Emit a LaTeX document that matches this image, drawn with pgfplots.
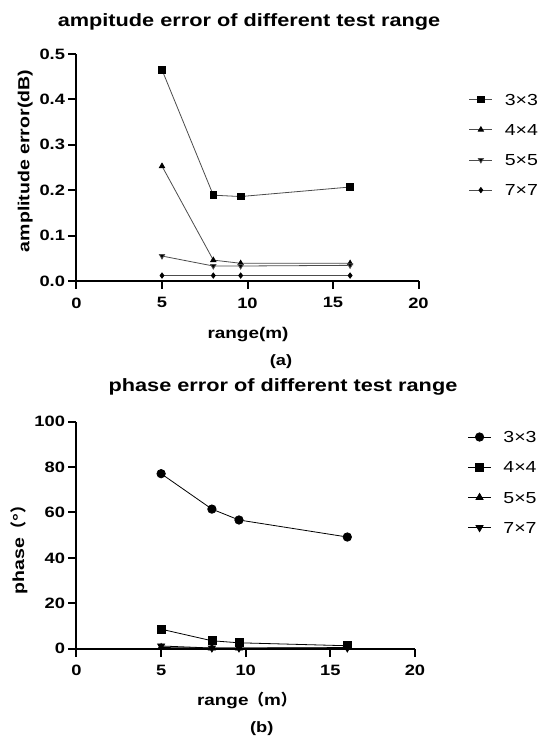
\documentclass[border=0pt]{standalone}
\usepackage{pgfplots}
\pgfplotsset{compat=1.18}
\usepackage{fontspec}
\setmainfont{Liberation Sans}[FakeStretch=1.22]
\newfontfamily\cjk{Noto Sans CJK SC}
\begin{document}
\begin{tikzpicture}[x=1pt,y=1pt]
\useasboundingbox (0pt,0pt) rectangle (550pt,739pt);
\pgfplotsset{
  prism/.style={
    scale only axis,
    axis lines*=left,
    axis line style={line width=2pt},
    tick align=outside,
    major tick length=8pt,
    every tick/.style={line width=2pt, black},
    xmin=0, xmax=20,
    xtick={0,5,10,15,20},
    clip=false,
    tick label style={font=\bfseries\fontsize{15}{15}\selectfont},
    xticklabel style={yshift=-5pt},
    /pgf/number format/assume math mode=true,
    legend cell align=left,
    every axis plot/.append style={line width=0.8pt, draw=black!70, mark options={fill=black, draw=black, solid}},
    legend image code/.code={\draw[mark repeat=2,mark phase=2] plot coordinates {(0pt,0pt)(11.5pt,0pt)(23pt,0pt)};},
  }
}
% ---------- (a)
\begin{axis}[prism,
  at={(76.5pt,458pt)}, anchor=south west,
  width=342pt, height=227pt,
  ymin=0, ymax=0.5, ytick={0,0.1,0.2,0.3,0.4,0.5},
  yticklabel style={/pgf/number format/.cd, fixed, fixed zerofill, precision=1},
  legend style={at={(1.147,0.825)}, anchor=north west, draw=none, fill=none,
    inner sep=0pt, row sep=19pt, column sep=12pt,
    font=\fontsize{16}{16}\selectfont,
    nodes={inner sep=0pt, text height=11.2pt, text depth=0pt}},
]
\addplot[mark=square*, mark size=3.3pt] coordinates {(5,0.465)(8,0.189)(9.6,0.186)(16,0.207)};
\addlegendentry{3×3}
\addplot[mark=triangle*, mark size=3pt] coordinates {(5,0.253)(8,0.046)(9.6,0.039)(16,0.039)};
\addlegendentry{4×4}
\addplot[mark=triangle*, mark size=3pt, mark options={rotate=180}] coordinates {(5,0.055)(8,0.033)(9.6,0.033)(16,0.0345)};
\addlegendentry{5×5}
\addplot[mark=diamond*, mark size=2.6pt] coordinates {(5,0.012)(8,0.012)(9.6,0.012)(16,0.012)};
\addlegendentry{7×7}
\end{axis}
% ---------- (b)
\begin{axis}[prism,
  at={(76.5pt,90.3pt)}, anchor=south west,
  width=338.5pt, height=227pt,
  ymin=0, ymax=100, ytick={0,20,40,60,80,100},
  every axis plot/.append style={draw=black},
  legend style={at={(1.155,0.958)}, anchor=north west, draw=none, fill=none,
    inner sep=0pt, row sep=19pt, column sep=12pt,
    font=\fontsize{16}{16}\selectfont,
    nodes={inner sep=0pt, text height=11.2pt, text depth=0pt}},
]
\addplot[mark=*, mark size=4.2pt] coordinates {(5,77.1)(8,61.5)(9.6,56.7)(16,49.2)};
\addlegendentry{3×3}
\addplot[mark=square*, mark size=4pt] coordinates {(5,8.6)(8,3.5)(9.6,2.6)(16,1.3)};
\addlegendentry{4×4}
\addplot[mark=triangle*, mark size=4pt] coordinates {(5,0.5)(8,0.3)(9.6,0.3)(16,0.5)};
\addlegendentry{5×5}
\addplot[mark=triangle*, mark size=4pt, mark options={rotate=180}] coordinates {(5,1.2)(8,0.3)(9.6,0.3)(16,0.3)};
\addlegendentry{7×7}
\end{axis}
% ---------- text
\node[anchor=base, font=\bfseries\fontsize{17.8}{17.8}\selectfont, inner sep=0pt] at (249pt,712.6pt) {ampitude error of different test range};
\node[anchor=base, font=\bfseries\fontsize{17.8}{17.8}\selectfont, inner sep=0pt] at (283pt,347.2pt) {phase error of different test range};
\node[anchor=base, font=\bfseries\fontsize{15.5}{15.5}\selectfont, inner sep=0pt] at (248pt,400.7pt) {range(m)};
\node[anchor=base, font=\bfseries\fontsize{15.5}{15.5}\selectfont, inner sep=0pt] at (246.7pt,34pt) {range{\cjk （}m{\cjk ）}};
\node[anchor=base, rotate=90, font=\bfseries\fontsize{16}{16}\selectfont, inner sep=0pt] at (29.3pt,578pt) {amplitude error(dB)};
\node[anchor=base, rotate=90, font=\bfseries\fontsize{16}{16}\selectfont, inner sep=0pt] at (24pt,193pt) {phase{\cjk （}°{\cjk ）}};
\node[font=\bfseries\fontsize{15}{15}\selectfont, inner sep=0pt] at (281pt,377pt) {(a)};
\node[font=\bfseries\fontsize{15}{15}\selectfont, inner sep=0pt] at (261.7pt,10pt) {(b)};
\end{tikzpicture}
\end{document}
